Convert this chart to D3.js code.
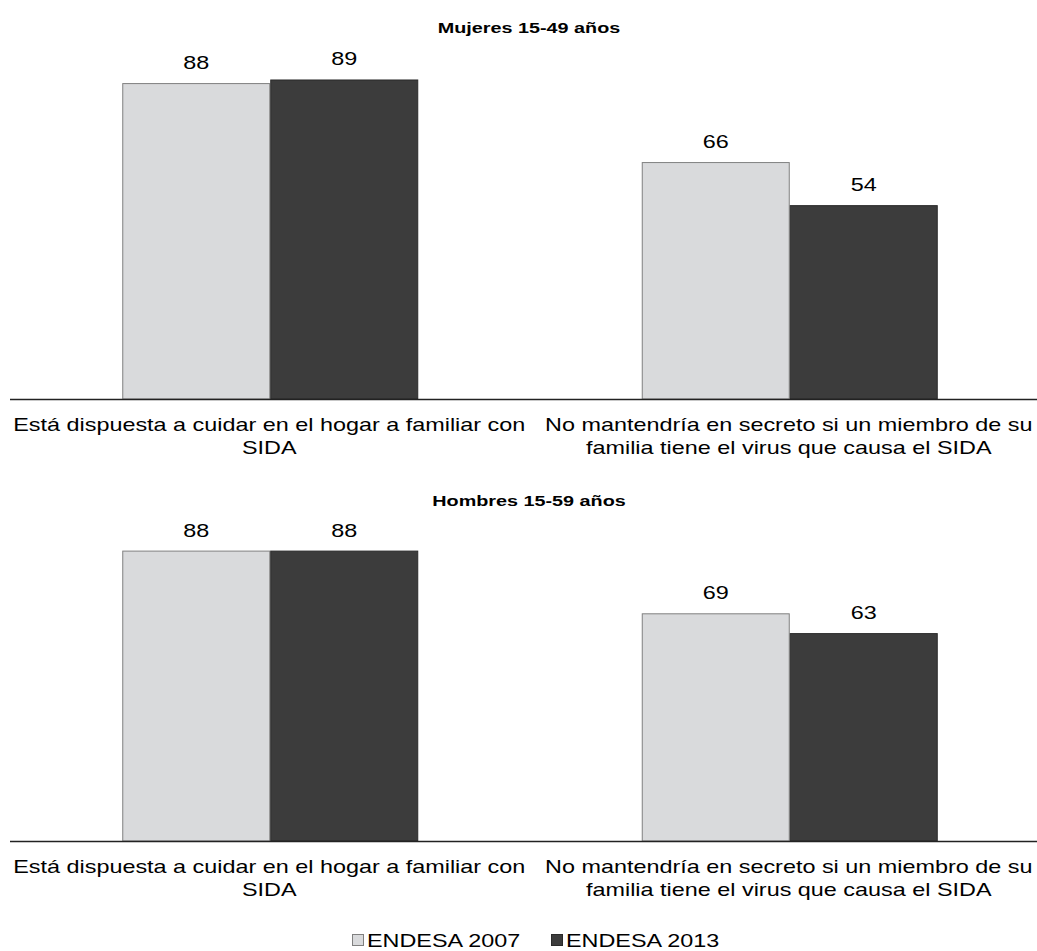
<!DOCTYPE html>
<html><head><meta charset="utf-8">
<script src="https://cdnjs.cloudflare.com/ajax/libs/d3/7.8.5/d3.min.js"></script>
<style>body{margin:0;background:#fff}svg{display:block}text{font-family:"Liberation Sans",Arial,sans-serif}</style>
</head><body>
<svg id="c" width="1037" height="951"></svg>
<script>
const categories = ["Está dispuesta a cuidar en el hogar a familiar con\nSIDA", "No mantendría en secreto si un miembro de su\nfamilia tiene el virus que causa el SIDA"];
const seriesNames = ["ENDESA 2007", "ENDESA 2013"];
const panelTitles = ["Mujeres 15-49 años", "Hombres 15-59 años"];
const mujeres2007 = [88, 66];
const mujeres2013 = [89, 54];
const hombres2007 = [88, 69];
const hombres2013 = [88, 63];

const colors = ["#d9dadc", "#3c3c3c"];
const strokes = ["#808080", "#2a2a2a"];
const SX = 1.3;
const svg = d3.select("#c");

function stext(parent, x, y, str, size, anchor, sx, bold) {
  return parent.append("text")
    .attr("transform", `translate(${x},${y}) scale(${sx},1)`)
    .attr("text-anchor", anchor).attr("font-size", size)
    .attr("font-weight", bold ? "bold" : "normal").attr("fill", "#000").text(str);
}

const panels = [
  {title: panelTitles[0], data: [mujeres2007, mujeres2013], top: 40, base: 399, titleY: 33},
  {title: panelTitles[1], data: [hombres2007, hombres2013], top: 511, base: 841, titleY: 506}
];

panels.forEach(p => {
  const g = svg.append("g");
  const x0 = d3.scaleBand().domain(categories).range([10.5, 1049.5]).paddingInner(0).paddingOuter(0);
  const x1 = d3.scaleBand().domain(seriesNames).range([0, 296]);
  const y = d3.scaleLinear().domain([0, 100]).range([p.base, p.top]);
  const off = (x0.bandwidth() - 296) / 2;

  stext(g, 529, p.titleY, p.title, 15, "middle", 1.32, true);

  seriesNames.forEach((s, si) => {
    categories.forEach((c, ci) => {
      const v = p.data[si][ci];
      const bx = x0(c) + off + x1(s);
      g.append("rect").attr("x", bx + 0.5).attr("y", y(v) + 0.5)
        .attr("width", x1.bandwidth() - 1).attr("height", y(0) - y(v) - 0.5)
        .attr("fill", colors[si]).attr("stroke", strokes[si]).attr("stroke-width", 1);
      stext(g, bx + x1.bandwidth() / 2, y(v) - 14, v, 18, "middle", SX, false);
    });
  });

  g.append("line").attr("x1", 10).attr("x2", 1037).attr("y1", p.base + 0.5).attr("y2", p.base + 0.5)
    .attr("stroke", "#222").attr("stroke-width", 1.5);

  categories.forEach(c => {
    c.split("\n").forEach((l, i) => {
      stext(g, x0(c) + x0.bandwidth() / 2 - 1, p.base + 32 + i * 23, l, 18, "middle", SX, false);
    });
  });
});

// legend
const legendX = [352, 551];
seriesNames.forEach((s, i) => {
  svg.append("rect").attr("x", legendX[i] + 0.5).attr("y", 934.5).attr("width", 11).attr("height", 11)
    .attr("fill", colors[i]).attr("stroke", strokes[i]);
  stext(svg, legendX[i] + 15, 947, s, 18, "start", SX, false);
});
</script>
</body></html>
